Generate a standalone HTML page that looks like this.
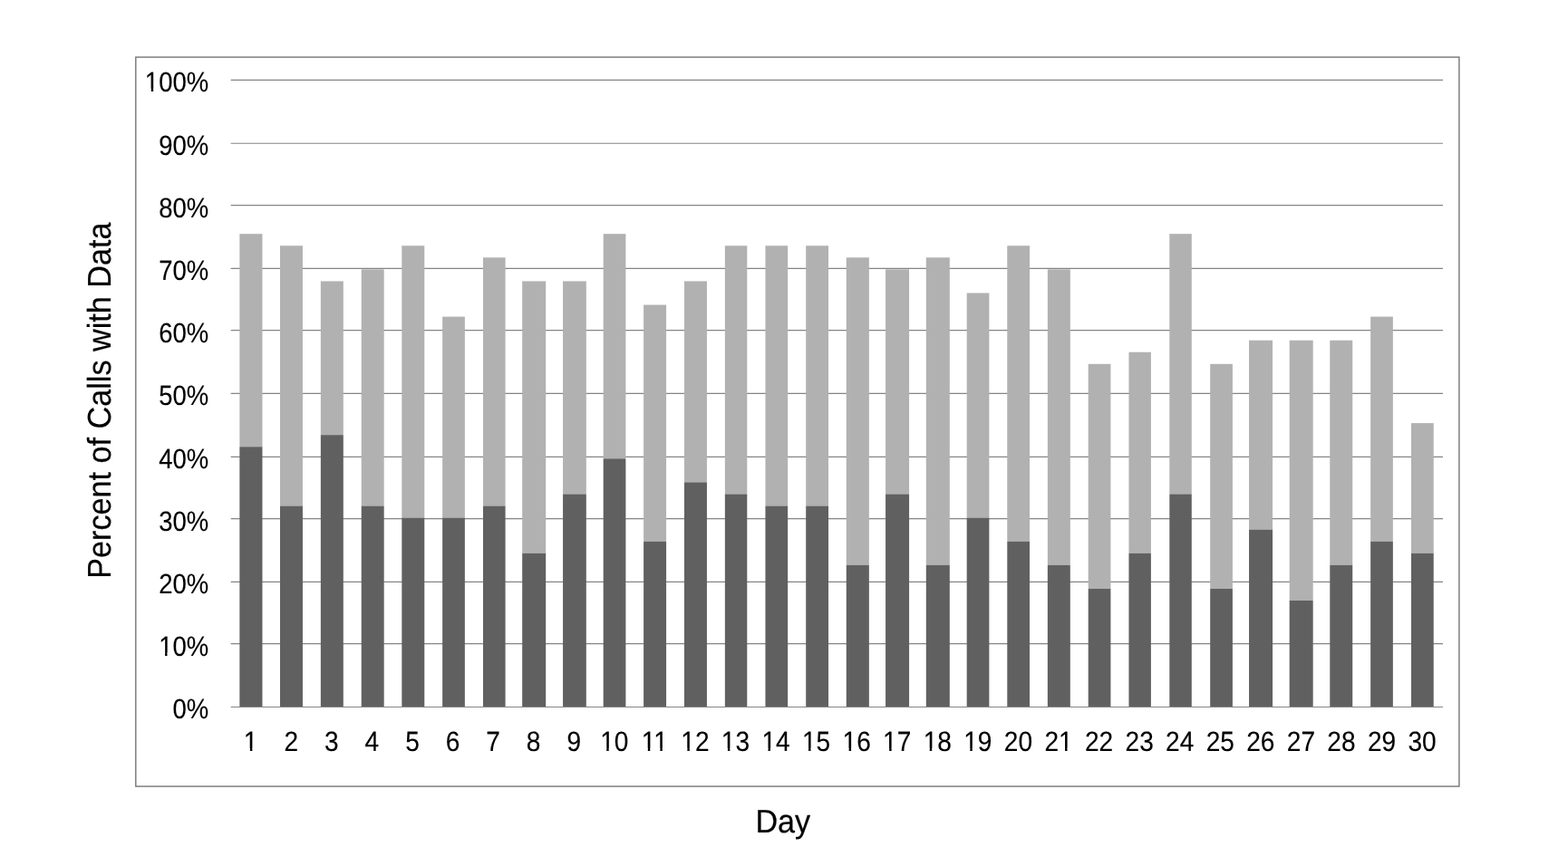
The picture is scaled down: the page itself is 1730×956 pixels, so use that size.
<!DOCTYPE html>
<html lang="en">
<head>
<meta charset="utf-8">
<title>Percent of Calls with Data by Day</title>
<style>
html,body{margin:0;padding:0;background:#fff;}
body{width:1730px;height:956px;overflow:hidden;}
svg{display:block;}
text{font-family:"Liberation Sans",Arial,Helvetica,sans-serif;fill:#000;text-rendering:geometricPrecision;}
.tick{font-size:27.5px;}
.tick text{stroke:#000;stroke-width:0.12px;}
.tick rect{stroke:none;}
.title{font-size:34.2px;stroke:#000;stroke-width:0.2px;}
</style>
</head>
<body>
<svg width="1730" height="956" viewBox="0 0 1730 956">
<rect x="0" y="0" width="1730" height="956" fill="#ffffff"/>
<rect x="149.80" y="63.10" width="1460.10" height="805.00" fill="none" stroke="#757575" stroke-width="1.4"/>
<g stroke="#858585" stroke-width="1.2">
<line x1="254.65" y1="710.65" x2="1592.00" y2="710.65"/>
<line x1="254.65" y1="642.38" x2="1592.00" y2="642.38"/>
<line x1="254.65" y1="572.56" x2="1592.00" y2="572.56"/>
<line x1="254.65" y1="504.28" x2="1592.00" y2="504.28"/>
<line x1="254.65" y1="434.46" x2="1592.00" y2="434.46"/>
<line x1="254.65" y1="364.64" x2="1592.00" y2="364.64"/>
<line x1="254.65" y1="296.36" x2="1592.00" y2="296.36"/>
<line x1="254.65" y1="226.54" x2="1592.00" y2="226.54"/>
<line x1="254.65" y1="158.27" x2="1592.00" y2="158.27"/>
<line x1="254.65" y1="88.44" x2="1592.00" y2="88.44"/>
</g>
<g fill="#b1b1b1">
<rect x="264.36" y="258.19" width="25.10" height="235.03"/>
<rect x="308.97" y="271.25" width="24.97" height="287.26"/>
<rect x="353.84" y="310.42" width="24.97" height="169.74"/>
<rect x="398.71" y="297.36" width="24.97" height="261.14"/>
<rect x="443.32" y="271.25" width="24.97" height="300.31"/>
<rect x="488.14" y="349.59" width="24.72" height="221.97"/>
<rect x="533.01" y="284.31" width="24.58" height="274.20"/>
<rect x="576.19" y="310.42" width="26.01" height="300.31"/>
<rect x="621.06" y="310.42" width="25.75" height="235.03"/>
<rect x="665.67" y="258.19" width="24.71" height="248.09"/>
<rect x="710.10" y="336.54" width="24.97" height="261.14"/>
<rect x="754.97" y="310.42" width="24.97" height="221.97"/>
<rect x="799.84" y="271.25" width="24.46" height="274.20"/>
<rect x="844.45" y="271.25" width="24.71" height="287.26"/>
<rect x="889.19" y="271.25" width="24.84" height="287.26"/>
<rect x="933.75" y="284.31" width="25.10" height="339.49"/>
<rect x="977.06" y="297.36" width="26.01" height="248.09"/>
<rect x="1021.80" y="284.31" width="26.00" height="339.49"/>
<rect x="1066.67" y="323.48" width="24.71" height="248.09"/>
<rect x="1111.28" y="271.25" width="24.71" height="326.43"/>
<rect x="1155.84" y="297.36" width="24.97" height="326.43"/>
<rect x="1200.71" y="401.82" width="24.71" height="248.09"/>
<rect x="1245.45" y="388.76" width="24.45" height="221.97"/>
<rect x="1290.32" y="258.19" width="24.45" height="287.26"/>
<rect x="1335.19" y="401.82" width="24.71" height="248.09"/>
<rect x="1378.06" y="375.71" width="26.01" height="208.91"/>
<rect x="1422.67" y="375.71" width="26.01" height="287.26"/>
<rect x="1467.28" y="375.71" width="24.97" height="248.09"/>
<rect x="1512.15" y="349.59" width="24.71" height="248.09"/>
<rect x="1557.02" y="467.11" width="24.71" height="143.63"/>
</g>
<g fill="#606060">
<rect x="264.36" y="493.22" width="25.10" height="287.26"/>
<rect x="308.97" y="558.51" width="24.97" height="221.97"/>
<rect x="353.84" y="480.17" width="24.97" height="300.31"/>
<rect x="398.71" y="558.51" width="24.97" height="221.97"/>
<rect x="443.32" y="571.57" width="24.97" height="208.91"/>
<rect x="488.14" y="571.57" width="24.72" height="208.91"/>
<rect x="533.01" y="558.51" width="24.58" height="221.97"/>
<rect x="576.19" y="610.74" width="26.01" height="169.74"/>
<rect x="621.06" y="545.45" width="25.75" height="235.03"/>
<rect x="665.67" y="506.28" width="24.71" height="274.20"/>
<rect x="710.10" y="597.68" width="24.97" height="182.80"/>
<rect x="754.97" y="532.39" width="24.97" height="248.09"/>
<rect x="799.84" y="545.45" width="24.46" height="235.03"/>
<rect x="844.45" y="558.51" width="24.71" height="221.97"/>
<rect x="889.19" y="558.51" width="24.84" height="221.97"/>
<rect x="933.75" y="623.79" width="25.10" height="156.69"/>
<rect x="977.06" y="545.45" width="26.01" height="235.03"/>
<rect x="1021.80" y="623.79" width="26.00" height="156.69"/>
<rect x="1066.67" y="571.57" width="24.71" height="208.91"/>
<rect x="1111.28" y="597.68" width="24.71" height="182.80"/>
<rect x="1155.84" y="623.79" width="24.97" height="156.69"/>
<rect x="1200.71" y="649.91" width="24.71" height="130.57"/>
<rect x="1245.45" y="610.74" width="24.45" height="169.74"/>
<rect x="1290.32" y="545.45" width="24.45" height="235.03"/>
<rect x="1335.19" y="649.91" width="24.71" height="130.57"/>
<rect x="1378.06" y="584.62" width="26.01" height="195.86"/>
<rect x="1422.67" y="662.97" width="26.01" height="117.51"/>
<rect x="1467.28" y="623.79" width="24.97" height="156.69"/>
<rect x="1512.15" y="597.68" width="24.71" height="182.80"/>
<rect x="1557.02" y="610.74" width="24.71" height="169.74"/>
</g>
<line x1="254.65" y1="780.48" x2="1592.00" y2="780.48" stroke="#858585" stroke-width="1.2"/>
<g class="tick" text-anchor="end" fill="#ffffff">
<g transform="translate(230.20 793.33) scale(1 1.12)"><text>0%</text></g>
<g transform="translate(230.20 724.13) scale(1 1.12)"><text>10%</text><rect x="-53.95" y="-3.10" width="5.82" height="3.75"/><rect x="-45.70" y="-3.10" width="5.61" height="3.75"/></g>
<g transform="translate(230.20 654.92) scale(1 1.12)"><text>20%</text></g>
<g transform="translate(230.20 585.72) scale(1 1.12)"><text>30%</text></g>
<g transform="translate(230.20 516.52) scale(1 1.12)"><text>40%</text></g>
<g transform="translate(230.20 447.32) scale(1 1.12)"><text>50%</text></g>
<g transform="translate(230.20 378.11) scale(1 1.12)"><text>60%</text></g>
<g transform="translate(230.20 308.91) scale(1 1.12)"><text>70%</text></g>
<g transform="translate(230.20 239.71) scale(1 1.12)"><text>80%</text></g>
<g transform="translate(230.20 170.50) scale(1 1.12)"><text>90%</text></g>
<g transform="translate(230.20 101.30) scale(1 1.12)"><text>100%</text><rect x="-69.25" y="-3.10" width="5.82" height="3.75"/><rect x="-61.00" y="-3.10" width="5.61" height="3.75"/></g>
</g>
<g class="tick" style="font-size:28.1px" text-anchor="middle" fill="#ffffff">
<g transform="translate(276.68 829.35) scale(1 1.096)"><text>1</text><rect x="-6.67" y="-3.15" width="5.93" height="3.80"/><rect x="1.74" y="-3.15" width="5.71" height="3.80"/></g>
<g transform="translate(321.25 829.35) scale(1 1.096)"><text>2</text></g>
<g transform="translate(365.81 829.35) scale(1 1.096)"><text>3</text></g>
<g transform="translate(410.38 829.35) scale(1 1.096)"><text>4</text></g>
<g transform="translate(454.94 829.35) scale(1 1.096)"><text>5</text></g>
<g transform="translate(499.51 829.35) scale(1 1.096)"><text>6</text></g>
<g transform="translate(544.08 829.35) scale(1 1.096)"><text>7</text></g>
<g transform="translate(588.64 829.35) scale(1 1.096)"><text>8</text></g>
<g transform="translate(633.21 829.35) scale(1 1.096)"><text>9</text></g>
<g transform="translate(677.77 829.35) scale(1 1.096)"><text>10</text><rect x="-14.48" y="-3.15" width="5.93" height="3.80"/><rect x="-6.08" y="-3.15" width="5.71" height="3.80"/></g>
<g transform="translate(722.34 829.35) scale(1 1.096)"><text>11</text><rect x="-13.45" y="-3.15" width="5.93" height="3.80"/><rect x="-5.04" y="-3.15" width="5.71" height="3.80"/><rect x="0.09" y="-3.15" width="5.93" height="3.80"/><rect x="8.49" y="-3.15" width="5.71" height="3.80"/></g>
<g transform="translate(766.91 829.35) scale(1 1.096)"><text>12</text><rect x="-14.48" y="-3.15" width="5.93" height="3.80"/><rect x="-6.08" y="-3.15" width="5.71" height="3.80"/></g>
<g transform="translate(811.47 829.35) scale(1 1.096)"><text>13</text><rect x="-14.48" y="-3.15" width="5.93" height="3.80"/><rect x="-6.08" y="-3.15" width="5.71" height="3.80"/></g>
<g transform="translate(856.04 829.35) scale(1 1.096)"><text>14</text><rect x="-14.48" y="-3.15" width="5.93" height="3.80"/><rect x="-6.08" y="-3.15" width="5.71" height="3.80"/></g>
<g transform="translate(900.60 829.35) scale(1 1.096)"><text>15</text><rect x="-14.48" y="-3.15" width="5.93" height="3.80"/><rect x="-6.08" y="-3.15" width="5.71" height="3.80"/></g>
<g transform="translate(945.17 829.35) scale(1 1.096)"><text>16</text><rect x="-14.48" y="-3.15" width="5.93" height="3.80"/><rect x="-6.08" y="-3.15" width="5.71" height="3.80"/></g>
<g transform="translate(989.74 829.35) scale(1 1.096)"><text>17</text><rect x="-14.48" y="-3.15" width="5.93" height="3.80"/><rect x="-6.08" y="-3.15" width="5.71" height="3.80"/></g>
<g transform="translate(1034.30 829.35) scale(1 1.096)"><text>18</text><rect x="-14.48" y="-3.15" width="5.93" height="3.80"/><rect x="-6.08" y="-3.15" width="5.71" height="3.80"/></g>
<g transform="translate(1078.87 829.35) scale(1 1.096)"><text>19</text><rect x="-14.48" y="-3.15" width="5.93" height="3.80"/><rect x="-6.08" y="-3.15" width="5.71" height="3.80"/></g>
<g transform="translate(1123.43 829.35) scale(1 1.096)"><text>20</text></g>
<g transform="translate(1168.00 829.35) scale(1 1.096)"><text>21</text><rect x="1.12" y="-3.15" width="5.93" height="3.80"/><rect x="9.53" y="-3.15" width="5.71" height="3.80"/></g>
<g transform="translate(1212.57 829.35) scale(1 1.096)"><text>22</text></g>
<g transform="translate(1257.13 829.35) scale(1 1.096)"><text>23</text></g>
<g transform="translate(1301.70 829.35) scale(1 1.096)"><text>24</text></g>
<g transform="translate(1346.26 829.35) scale(1 1.096)"><text>25</text></g>
<g transform="translate(1390.83 829.35) scale(1 1.096)"><text>26</text></g>
<g transform="translate(1435.40 829.35) scale(1 1.096)"><text>27</text></g>
<g transform="translate(1479.96 829.35) scale(1 1.096)"><text>28</text></g>
<g transform="translate(1524.53 829.35) scale(1 1.096)"><text>29</text></g>
<g transform="translate(1569.09 829.35) scale(1 1.096)"><text>30</text></g>
</g>
<text class="title" text-anchor="middle" transform="translate(863.80 918.90) scale(1 1.058)">Day</text>
<text class="title" text-anchor="middle" transform="translate(122.05 442.15) rotate(-90) scale(1 1.058)">Percent of Calls with Data</text>
</svg>
</body>
</html>
